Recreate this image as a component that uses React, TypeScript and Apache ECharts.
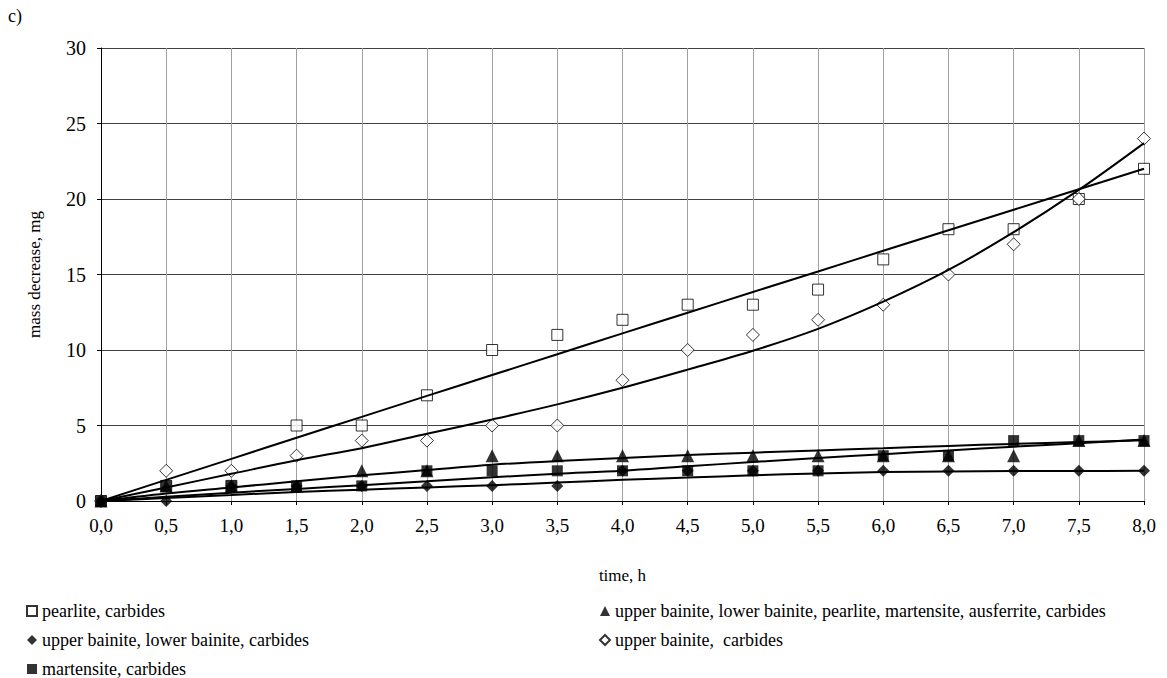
import React, { useEffect, useRef } from "react";
import * as echarts from "echarts";

const categories = ["0,0", "0,5", "1,0", "1,5", "2,0", "2,5", "3,0", "3,5", "4,0", "4,5", "5,0", "5,5", "6,0", "6,5", "7,0", "7,5", "8,0"];
const yTicks = [0, 30, 5];

const pearlite = [0, 1, 1, 5, 5, 7, 10, 11, 12, 13, 13, 14, 16, 18, 18, 20, 22];
const mixed = [0, 1, 1, 1, 2, 2, 3, 3, 3, 3, 3, 3, 3, 3, 3, 4, 4];
const ubLbCarb = [0, 0, 1, 1, 1, 1, 1, 1, 2, 2, 2, 2, 2, 2, 2, 2, 2];
const ubCarb = [0, 2, 2, 3, 4, 4, 5, 5, 8, 10, 11, 12, 13, 15, 17, 20, 24];
const martensite = [0, 1, 1, 1, 1, 2, 2, 2, 2, 2, 2, 2, 3, 3, 4, 4, 4];

// trend lines
const pearliteTrend = [0, 1.4, 2.79, 4.19, 5.57, 6.96, 8.34, 9.72, 11.1, 12.47, 13.84, 15.2, 16.57, 17.93, 19.29, 20.65, 22.0];
const ubCarbTrend = [0, 0.9, 1.8, 2.7, 3.5, 4.45, 5.4, 6.4, 7.5, 8.7, 9.95, 11.4, 13.2, 15.3, 17.8, 20.6, 23.7];
const mixedTrend = [0, 0.5, 0.9, 1.3, 1.7, 2.05, 2.4, 2.65, 2.85, 3.05, 3.2, 3.35, 3.5, 3.65, 3.78, 3.9, 4.02];
const martensiteTrend = [0, 0.28, 0.55, 0.8, 1.05, 1.3, 1.57, 1.8, 2.0, 2.3, 2.58, 2.85, 3.1, 3.35, 3.6, 3.83, 4.08];
const ubLbCarbTrend = [0, 0.2, 0.4, 0.6, 0.75, 0.9, 1.05, 1.22, 1.4, 1.55, 1.7, 1.82, 1.92, 1.96, 1.98, 1.99, 2.0];

const names = {
  pearlite: "pearlite, carbides",
  mixed: "upper bainite, lower bainite, pearlite, martensite, ausferrite, carbides",
  ubLb: "upper bainite, lower bainite, carbides",
  ub: "upper bainite,  carbides",
  mart: "martensite, carbides",
};

const FONT = "'Liberation Serif', 'Times New Roman', Times, serif";

function trend(name: string, data: number[]) {
  return {
    name,
    type: "line",
    data,
    symbol: "none",
    smooth: 0.35,
    silent: true,
    z: 5,
    lineStyle: { color: "#000", width: 2 },
  };
}

export default function App() {
  const ref = useRef<HTMLDivElement>(null);
  useEffect(() => {
    const chart = echarts.init(ref.current!, null, { renderer: "svg" });
    const legendText = { fontSize: 18, fontFamily: FONT, color: "#000" };
    const option = {
      animation: false,
      backgroundColor: "#fff",
      textStyle: { fontFamily: FONT, color: "#000" },
      grid: { left: 101, right: 23, top: 48, bottom: 177 },
      graphic: [
        { type: "text", left: 8, top: 7, style: { text: "c)", fontSize: 18, fontFamily: FONT, fill: "#000" } },
      ],
      legend: [
        {
          left: 26,
          top: 602,
          height: 120,
          orient: "vertical",
          itemWidth: 10,
          itemHeight: 10,
          itemGap: 11,
          padding: 0,
          textStyle: legendText,
          data: [names.pearlite, names.ubLb, names.mart],
        },
        {
          left: 599,
          top: 602,
          height: 120,
          orient: "vertical",
          itemWidth: 10,
          itemHeight: 10,
          itemGap: 11,
          padding: 0,
          textStyle: legendText,
          data: [names.mixed, names.ub],
        },
      ],
      xAxis: {
        type: "category",
        data: categories,
        boundaryGap: false,
        name: "time, h",
        nameLocation: "middle",
        nameGap: 66,
        nameTextStyle: { fontSize: 17, fontFamily: FONT, color: "#000" },
        axisLine: { lineStyle: { color: "#000", width: 1 } },
        axisTick: { show: true, length: 4, lineStyle: { color: "#000" } },
        axisLabel: { fontSize: 19, fontFamily: FONT, color: "#000", margin: 15 },
        splitLine: { show: true, lineStyle: { color: "#a0a0a0", width: 1 } },
      },
      yAxis: {
        type: "value",
        min: yTicks[0],
        max: yTicks[1],
        interval: yTicks[2],
        name: "mass decrease, mg",
        nameLocation: "middle",
        nameGap: 58,
        nameRotate: 90,
        nameTextStyle: { fontSize: 17, fontFamily: FONT, color: "#000" },
        axisLine: { show: true, lineStyle: { color: "#000", width: 1 } },
        axisTick: { show: true, length: 4, lineStyle: { color: "#000" } },
        axisLabel: { fontSize: 20, fontFamily: FONT, color: "#000", margin: 15 },
        splitLine: { show: true, lineStyle: { color: "#404040", width: 1 } },
      },
      series: [
        {
          name: names.pearlite,
          type: "scatter",
          data: pearlite,
          symbol: "rect",
          symbolSize: 11,
          z: 2,
          itemStyle: { color: "#fff", borderColor: "#000", borderWidth: 1 },
        },
        {
          name: names.ub,
          type: "scatter",
          data: ubCarb,
          symbol: "diamond",
          symbolSize: 13,
          z: 2,
          itemStyle: { color: "#fff", borderColor: "#000", borderWidth: 1 },
        },
        {
          name: names.mixed,
          type: "scatter",
          data: mixed,
          symbol: "triangle",
          symbolSize: 13,
          z: 3,
          itemStyle: { color: "#000" },
        },
        {
          name: names.ubLb,
          type: "scatter",
          data: ubLbCarb,
          symbol: "diamond",
          symbolSize: 12,
          z: 3,
          itemStyle: { color: "#000" },
        },
        {
          name: names.mart,
          type: "scatter",
          data: martensite,
          symbol: "rect",
          symbolSize: 11,
          z: 4,
          itemStyle: { color: "#000" },
        },
        trend("pearlite trend", pearliteTrend),
        trend("upper bainite carbides trend", ubCarbTrend),
        trend("mixed trend", mixedTrend),
        trend("martensite trend", martensiteTrend),
        trend("ub lb carbides trend", ubLbCarbTrend),
      ],
    };
    chart.setOption(option as any);
    return () => chart.dispose();
  }, []);
  return (
    <div
      ref={ref}
      style={{ position: "fixed", left: 0, top: 0, width: 1167, height: 678, background: "#fff" }}
    />
  );
}
